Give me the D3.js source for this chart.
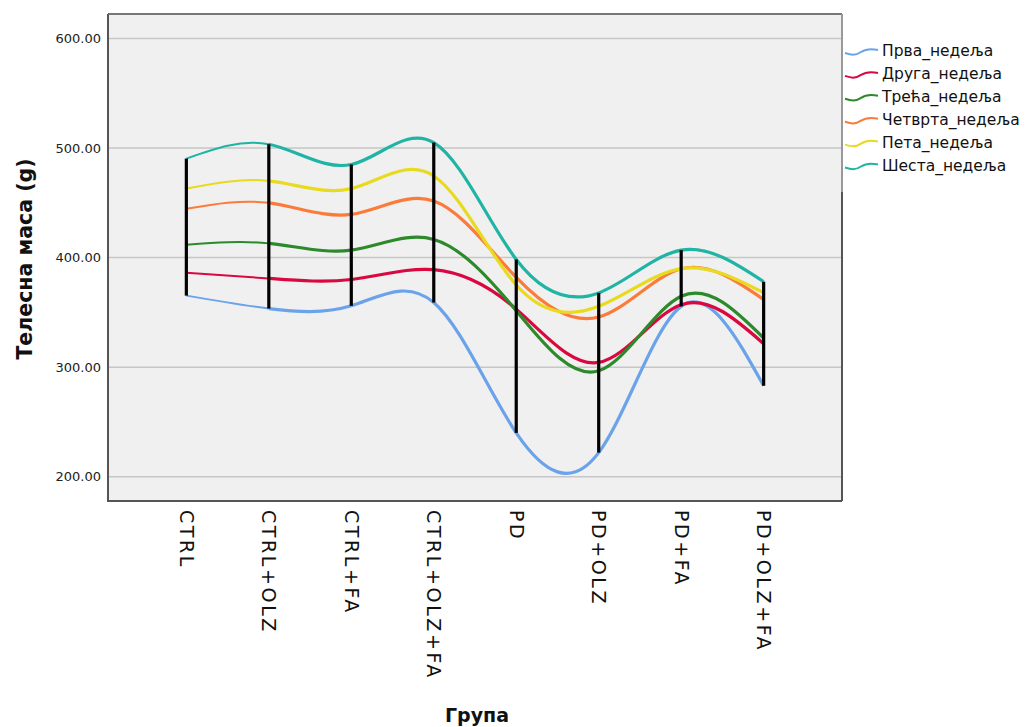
<!DOCTYPE html>
<html>
<head>
<meta charset="utf-8">
<script src="https://cdn.jsdelivr.net/npm/d3@7/dist/d3.min.js"></script>
<style>
  html, body { margin: 0; padding: 0; background: #fff; }
  svg { display: block; font-family: "DejaVu Sans", sans-serif; }
</style>
</head>
<body>
<svg id="chart" width="1026" height="727"></svg>
<script>
const categories = ["CTRL", "CTRL+OLZ", "CTRL+FA", "CTRL+OLZ+FA", "PD", "PD+OLZ", "PD+FA", "PD+OLZ+FA"];
const seriesNames = ["Прва_недеља", "Друга_недеља", "Трећа_недеља", "Четврта_недеља", "Пета_недеља", "Шеста_недеља"];
const week1 = [365.3, 353.5, 356.0, 359.0, 240.0, 222.0, 355.5, 283.0];
const week2 = [386.1, 381.0, 380.0, 389.0, 353.0, 304.3, 357.0, 321.4];
const week3 = [411.7, 413.0, 406.8, 416.6, 351.5, 296.7, 364.7, 326.6];
const week4 = [444.6, 450.0, 439.5, 451.6, 382.0, 345.8, 389.8, 361.7];
const week5 = [463.0, 470.0, 463.0, 474.5, 375.0, 355.5, 390.0, 368.0];
const week6 = [490.4, 503.5, 485.0, 505.0, 398.3, 367.8, 406.8, 378.0];
const yTicks = [200, 300, 400, 500, 600];
const colors = ["#6aa3ea", "#d9083f", "#2c8a2a", "#fc7b3a", "#e8da1e", "#1fb4a4"];

const series = [week1, week2, week3, week4, week5, week6];

const svg = d3.select("#chart");
const L = 108, R = 842, T = 14, B = 501;

const x = d3.scalePoint().domain(categories).range([L, R]).padding(0.95);
const y = d3.scaleLinear().domain([177.8, 622.4]).range([B, T]);

// plot background
svg.append("rect").attr("x", L).attr("y", T).attr("width", R - L).attr("height", B - T)
  .attr("fill", "#f0f0f0");

// gridlines
svg.append("g").selectAll("line").data(yTicks).join("line")
  .attr("x1", L).attr("x2", R)
  .attr("y1", d => y(d)).attr("y2", d => y(d))
  .attr("stroke", "#c6c6c6").attr("stroke-width", 1.5);

// y axis labels
const yAxis = d3.axisLeft(y).tickValues(yTicks).tickSize(0).tickPadding(7)
  .tickFormat(d3.format(".2f"));
const gy = svg.append("g").attr("transform", `translate(${L},0)`).call(yAxis);
gy.select(".domain").remove();
gy.selectAll("text").attr("font-size", 13).attr("fill", "#222")
  .attr("font-family", "DejaVu Sans, sans-serif");

// x axis labels (rotated)
const xAxis = d3.axisBottom(x).tickSize(0).tickPadding(0);
const gx = svg.append("g").attr("transform", `translate(0,${B})`).call(xAxis);
gx.select(".domain").remove();
gx.selectAll("text")
  .attr("font-size", 19).attr("fill", "#111")
  .attr("letter-spacing", 2.6)
  .attr("font-family", "DejaVu Sans, sans-serif")
  .attr("text-anchor", "start")
  .attr("dy", null).attr("y", 0)
  .attr("dominant-baseline", "central")
  .attr("transform", "translate(0,9) rotate(90)");

// clip paths for segment width variation
const defs = svg.append("defs");
defs.append("clipPath").attr("id", "clipA").append("rect")
  .attr("x", L).attr("y", T).attr("width", x(categories[1]) - L).attr("height", B - T);
defs.append("clipPath").attr("id", "clipB").append("rect")
  .attr("x", x(categories[1])).attr("y", T).attr("width", R - x(categories[1])).attr("height", B - T);

const line = d3.line().x((d, i) => x(categories[i])).y(d => y(d)).curve(d3.curveNatural);

const gl = svg.append("g");
series.forEach((s, k) => {
  gl.append("path").attr("d", line(s)).attr("fill", "none")
    .attr("stroke", colors[k]).attr("stroke-width", 2).attr("clip-path", "url(#clipA)");
  gl.append("path").attr("d", line(s)).attr("fill", "none")
    .attr("stroke", colors[k]).attr("stroke-width", 3.2).attr("clip-path", "url(#clipB)");
});

// high-low lines
const hl = categories.map((c, i) => {
  const vals = series.map(s => s[i]);
  return { c, lo: d3.min(vals), hi: d3.max(vals) };
});
svg.append("g").selectAll("line").data(hl).join("line")
  .attr("x1", d => x(d.c)).attr("x2", d => x(d.c))
  .attr("y1", d => y(d.lo)).attr("y2", d => y(d.hi))
  .attr("stroke", "#000").attr("stroke-width", 3.2);

// frame
svg.append("path")
  .attr("d", `M${L},${T}H${R}`).attr("stroke", "#777").attr("stroke-width", 2).attr("fill", "none");
svg.append("path")
  .attr("d", `M${L},${T}V${B}H${R}`).attr("stroke", "#555").attr("stroke-width", 2).attr("fill", "none");
svg.append("path")
  .attr("d", `M${R},${T}V${192}`).attr("stroke", "#999").attr("stroke-width", 2).attr("fill", "none");
svg.append("path")
  .attr("d", `M${R},${192}V${B}`).attr("stroke", "#555").attr("stroke-width", 2).attr("fill", "none");

// axis titles
svg.append("text").attr("x", 477).attr("y", 722).attr("text-anchor", "middle")
  .attr("font-size", 19).attr("font-weight", "bold").attr("fill", "#111").text("Група");
svg.append("text").attr("transform", `translate(32,${259}) rotate(-90)`)
  .attr("text-anchor", "middle").attr("font-size", 20.5).attr("font-weight", "bold")
  .attr("fill", "#111").text("Телесна маса (g)");

// legend
const lg = svg.append("g");
const wave = "M0,2 C6,4 10,5 16,1 C22,-3 28,-2 33,-1";
seriesNames.forEach((n, k) => {
  const yy = 51 + k * 22.9;
  lg.append("path").attr("d", wave).attr("transform", `translate(845,${yy})`)
    .attr("fill", "none").attr("stroke", colors[k]).attr("stroke-width", 2);
  lg.append("text").attr("x", 882).attr("y", yy).attr("dominant-baseline", "central")
    .attr("font-size", 15.5).attr("fill", "#111").text(n);
});
</script>
</body>
</html>
